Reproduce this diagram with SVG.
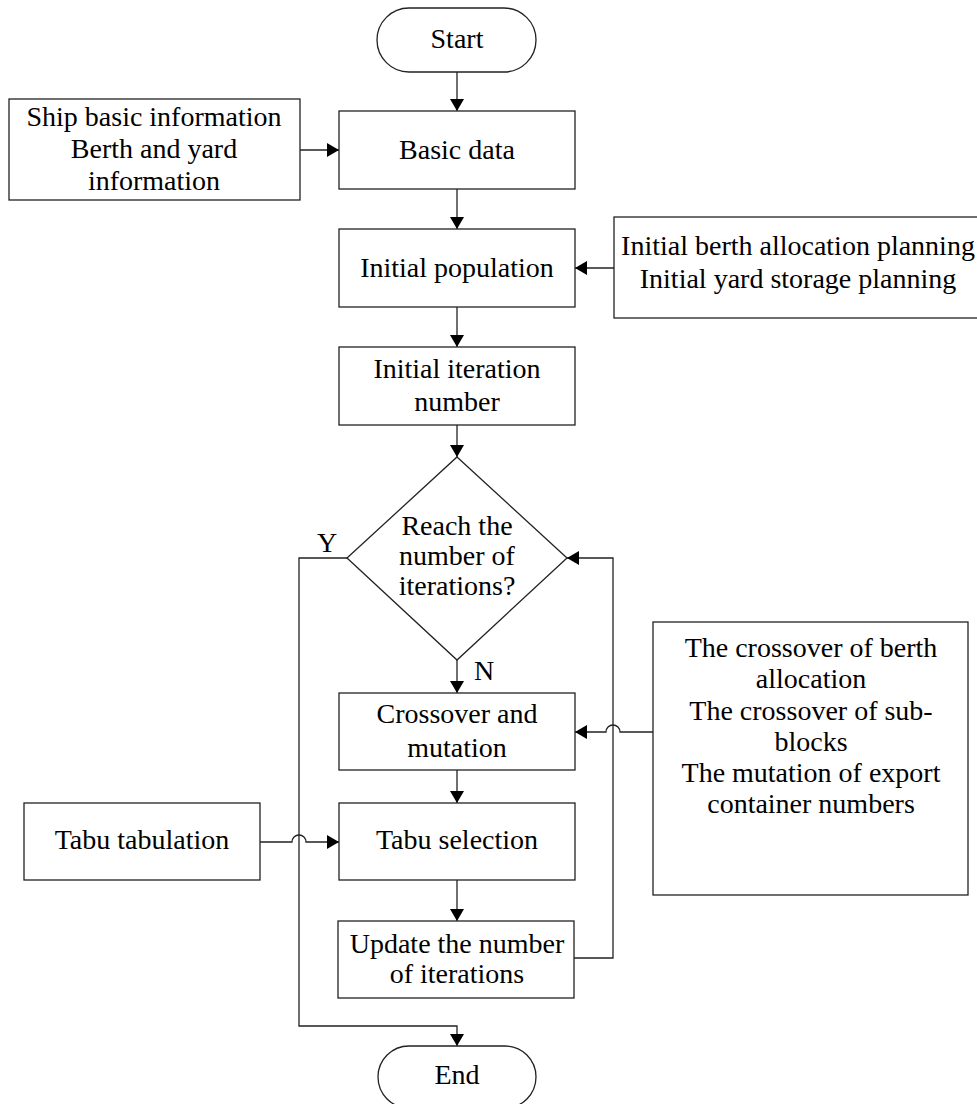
<svg xmlns="http://www.w3.org/2000/svg" width="977" height="1104" viewBox="0 0 977 1104">
<defs>
<marker id="ah" markerWidth="12" markerHeight="14" refX="12" refY="7" orient="auto" markerUnits="userSpaceOnUse">
<path d="M0,0 L12,7 L0,14 Z" fill="#000" stroke="none"/>
</marker>
</defs>
<rect width="977" height="1104" fill="#fff"/>
<g id="connectors" fill="none" stroke="#222" stroke-width="1.3">
<path d="M457,72 V111" marker-end="url(#ah)"/>
<path d="M457,189 V229" marker-end="url(#ah)"/>
<path d="M457,307 V347" marker-end="url(#ah)"/>
<path d="M457,425 V457" marker-end="url(#ah)"/>
<path d="M457,660 V693" marker-end="url(#ah)"/>
<path d="M457,770 V803" marker-end="url(#ah)"/>
<path d="M457,880 V921" marker-end="url(#ah)"/>
<path d="M574,958 H613 V558 H567" marker-end="url(#ah)"/>
<path d="M347,558 H299 V1026 H457 V1046" marker-end="url(#ah)"/>
<path d="M300,150 H339" marker-end="url(#ah)"/>
<path d="M614,268 H575" marker-end="url(#ah)"/>
<path d="M653,732 H620 A7,7 0 0 0 606,732 H575" marker-end="url(#ah)"/>
<path d="M260,842 H292 A7,7 0 0 1 306,842 H339" marker-end="url(#ah)"/>
</g>
<g id="nodes" fill="#fff" stroke="#222" stroke-width="1.3" font-family="Liberation Serif" font-size="28" text-anchor="middle">
<g id="start"><rect x="377" y="8" width="159" height="64" rx="32" ry="32"/><text fill="#000" stroke="none" x="457" y="48">Start</text></g>
<g id="ship-info"><rect x="9" y="99" width="291" height="101"/><g fill="#000" stroke="none"><text x="154" y="126">Ship basic information</text><text x="154" y="158">Berth and yard</text><text x="154" y="190">information</text></g></g>
<g id="basic-data"><rect x="339" y="111" width="236" height="78"/><text fill="#000" stroke="none" x="457" y="159">Basic data</text></g>
<g id="initial-population"><rect x="339" y="229" width="236" height="78"/><text fill="#000" stroke="none" x="457" y="277">Initial population</text></g>
<g id="initial-planning"><rect x="614" y="217" width="370" height="101"/><g fill="#000" stroke="none"><text x="798" y="255">Initial berth allocation planning</text><text x="798" y="288">Initial yard storage planning</text></g></g>
<g id="initial-iteration"><rect x="339" y="347" width="236" height="78"/><g fill="#000" stroke="none"><text x="457" y="378">Initial iteration</text><text x="457" y="411">number</text></g></g>
<g id="decision"><path d="M457,457 L567,558 L457,660 L347,558 Z"/><g fill="#000" stroke="none"><text x="457" y="535">Reach the</text><text x="457" y="565">number of</text><text x="457" y="595">iterations?</text><text x="327" y="552">Y</text><text x="484" y="680">N</text></g></g>
<g id="crossover-mutation"><rect x="339" y="693" width="236" height="77"/><g fill="#000" stroke="none"><text x="457" y="723">Crossover and</text><text x="457" y="757">mutation</text></g></g>
<g id="crossover-details"><rect x="653" y="622" width="315" height="273"/><g fill="#000" stroke="none"><text x="811" y="657">The crossover of berth</text><text x="811" y="688">allocation</text><text x="811" y="720">The crossover of sub-</text><text x="811" y="751">blocks</text><text x="811" y="782">The mutation of export</text><text x="811" y="813">container numbers</text></g></g>
<g id="tabu-tabulation"><rect x="24" y="803" width="236" height="77"/><text fill="#000" stroke="none" x="142" y="849">Tabu tabulation</text></g>
<g id="tabu-selection"><rect x="339" y="803" width="236" height="77"/><text fill="#000" stroke="none" x="457" y="849">Tabu selection</text></g>
<g id="update"><rect x="338" y="921" width="236" height="77"/><g fill="#000" stroke="none"><text x="457" y="953">Update the number</text><text x="457" y="983">of iterations</text></g></g>
<g id="end"><rect x="378" y="1046" width="158" height="62" rx="31" ry="31"/><text fill="#000" stroke="none" x="457" y="1084">End</text></g>
</g>
</svg>
